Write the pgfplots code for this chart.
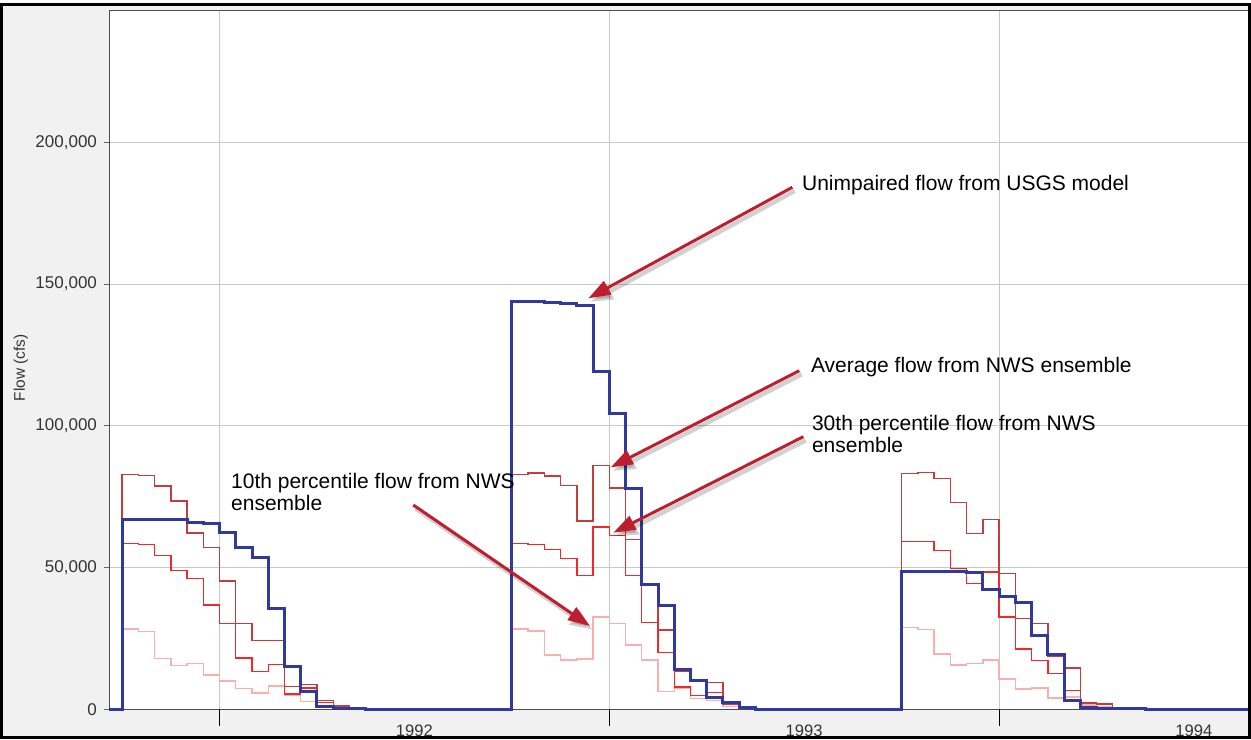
\documentclass[border=0pt]{standalone}
\usepackage{pgfplots}
\pgfplotsset{compat=1.18}
\usepackage{pgfplotstable}
\usepackage{fontspec}
\setmainfont{Liberation Sans}
\usetikzlibrary{arrows.meta}

\definecolor{bgpanel}{RGB}{240,241,240}
\definecolor{usgs}{RGB}{48,58,158}
\definecolor{avgred}{RGB}{195,60,62}
\definecolor{pthirty}{RGB}{240,40,40}
\definecolor{pten}{RGB}{250,175,175}
\definecolor{arrowred}{RGB}{190,30,45}
\definecolor{gridgray}{RGB}{200,200,200}

% USGS unimpaired flow (semi-monthly steps, x = half-months from 1 Oct 1991)
\pgfplotstableread{
x y
-0.807 0
0 66900
1 66900
2 66900
3 66900
4 65840
5 65490
6 62430
7 56910
8 53620
9 35430
10 15010
11 6440
12 1000
13 300
14 300
15 0
24 144000
25 143800
26 143500
27 142950
28 142500
29 119230
30 104220
31 78040
32 44120
33 36720
34 14080
35 10310
36 4220
37 2570
38 800
39 0
48 48460
49 48460
50 48460
51 48460
52 48100
53 42250
54 39900
55 37540
56 26160
57 19370
58 3030
59 700
60 400
61 300
62 300
63 0
69.39 0
}\usgs

% Average flow from NWS ensemble
\pgfplotstableread{
x y
-0.807 0
0 82850
1 82500
2 78740
3 73460
4 62190
5 57150
6 45290
7 30280
8 24300
9 24300
10 8000
11 8800
12 3000
13 1200
14 400
15 0
24 82750
25 83330
26 82270
27 78980
28 66420
29 85910
30 78040
31 59970
32 44360
33 27920
34 13250
35 10000
36 9500
37 1800
38 700
39 0
48 83100
49 83450
50 81340
51 72890
52 62080
53 67010
54 47890
55 32040
56 30280
57 18540
58 14550
59 2220
60 1600
61 700
62 300
63 0
69.39 0
}\avgflow

% 30th percentile flow from NWS ensemble
\pgfplotstableread{
x y
-0.807 0
0 58550
1 58200
2 54220
3 49050
4 46230
5 36830
6 30280
7 18060
8 13400
9 15700
10 5400
11 7500
12 2300
13 1100
14 400
15 0
24 58450
25 58100
26 56340
27 53170
28 47290
29 64290
30 61370
31 47290
32 30630
33 20070
34 7900
35 4800
36 6000
37 1800
38 500
39 0
48 59150
49 59150
50 56100
51 49760
52 44360
53 48460
54 32620
55 21240
56 17130
57 12680
58 6570
59 2460
60 1800
61 700
62 200
63 0
69.39 0
}\pthirtyflow

% 10th percentile flow from NWS ensemble
\pgfplotstableread{
x y
-0.807 0
0 28270
1 27460
2 17830
3 15360
4 16070
5 12080
6 9960
7 7390
8 5700
9 8200
10 5000
11 2700
12 1000
13 500
14 200
15 0
24 28270
25 27680
26 19120
27 17360
28 17710
29 32610
30 30280
31 22640
32 17360
33 6300
34 7500
35 3900
36 3000
37 1000
38 400
39 0
48 28870
49 28050
50 19480
51 15600
52 16150
53 17360
54 10680
55 7160
56 7500
57 3990
58 4300
59 1500
60 800
61 300
62 100
63 0
69.39 0
}\ptenflow

\tikzset{
  annarrow/.style={arrowred, line width=1.5pt, -{Triangle[length=11pt,width=7.5pt]}},
  annshadow/.style={black, opacity=0.18, line width=2.2pt, -{Triangle[length=11pt,width=8.5pt]}, xshift=1.2pt, yshift=-1.8pt},
  anntext/.style={anchor=base west, inner sep=0pt, font=\fontsize{10.5}{11}\selectfont, text=black}
}

\begin{document}
\begin{tikzpicture}[x=1pt,y=1pt]
\useasboundingbox (0,0) rectangle (625.5,369.5);
\fill[white] (0,0) rectangle (625.5,369.5);
\fill[bgpanel] (0.7,0.7) rectangle (624.8,367.2);
\begin{axis}[
  at={(54.5pt,14.85pt)}, anchor=south west,
  scale only axis, width=570pt, height=349.15pt,
  xmin=-0.807, xmax=69.39, ymin=0, ymax=246290,
  clip=false,
  axis background/.style={fill=white},
  axis line style={draw=black!70, line width=0.5pt},
  grid=major,
  major grid style={gridgray, line width=0.5pt},
  xtick={6,30,54}, xticklabels={},
  xtick style={draw=none},
  extra x ticks={18,42,66},
  extra x tick labels={1992,1993,1994},
  extra x tick style={grid=none},
  xticklabel style={font=\fontsize{8.3}{10}\selectfont, text=black!80, yshift=-2pt},
  ytick={0,50000,100000,150000,200000},
  scaled y ticks=false,
  /pgf/number format/fixed,
  /pgf/number format/1000 sep={,},
  /pgf/number format/assume math mode=true,
  yticklabel style={font=\fontsize{8.5}{10}\selectfont, text=black!80},
  tick align=outside,
  major tick length=2.5pt,
  ytick style={draw=black!60, line width=0.5pt},
  ytick pos=left,
]
\addplot[pten, line width=0.7pt, const plot mark left] table {\ptenflow};
\addplot[pthirty, line width=0.7pt, const plot mark left] table {\pthirtyflow};
\addplot[avgred, line width=0.7pt, const plot mark left] table {\avgflow};
\addplot[usgs, line width=1.5pt, const plot mark left] table {\usgs};

% year tick marks
\draw[black, line width=0.5pt] (axis cs:6,0) -- ([yshift=-8.5pt]axis cs:6,0);
\draw[black, line width=0.5pt] (axis cs:30,0) -- ([yshift=-8.5pt]axis cs:30,0);
\draw[black, line width=0.5pt] (axis cs:54,0) -- ([yshift=-8.5pt]axis cs:54,0);

% annotation arrows
\draw[annshadow] (axis cs:41.27,184110) -- (axis cs:28.71,144960);
\draw[annarrow]  (axis cs:41.27,184110) -- (axis cs:28.71,144960);
\draw[annshadow] (axis cs:41.70,119420) -- (axis cs:30.09,85350);
\draw[annarrow]  (axis cs:41.70,119420) -- (axis cs:30.09,85350);
\draw[annshadow] (axis cs:41.95,96150) -- (axis cs:30.25,62290);
\draw[annarrow]  (axis cs:41.95,96150) -- (axis cs:30.25,62290);
\draw[annshadow] (axis cs:17.93,72060) -- (axis cs:28.81,29380);
\draw[annarrow]  (axis cs:17.93,72060) -- (axis cs:28.81,29380);

% annotation texts
\node[anntext] at (axis cs:41.85,182880) {Unimpaired flow from USGS model};
\node[anntext] at (axis cs:42.40,118790) {Average flow from NWS ensemble};
\node[anntext] at (axis cs:42.46,98440) {30th percentile flow from NWS};
\node[anntext] at (axis cs:42.46,90680) {ensemble};
\node[anntext] at (axis cs:6.69,77980) {10th percentile flow from NWS};
\node[anntext] at (axis cs:6.69,70220) {ensemble};
\end{axis}
\node[rotate=90, font=\fontsize{7.7}{9}\selectfont, text=black!80] at (10.4,185.5) {Flow (cfs)};
\draw[black, line width=1.4pt] (0.7,0.7) rectangle (624.8,367.2);
\end{tikzpicture}
\end{document}
